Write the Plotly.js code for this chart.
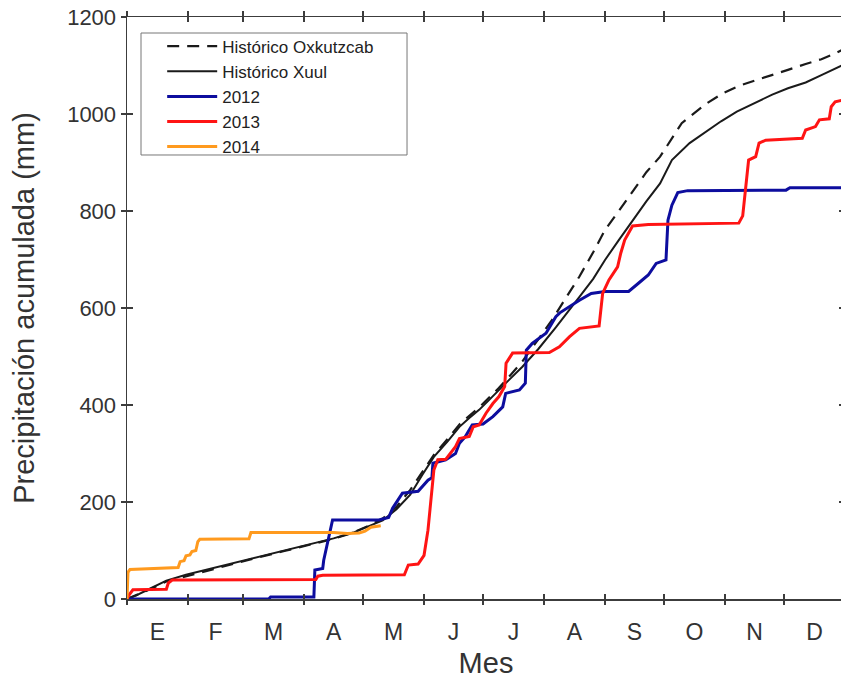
<!DOCTYPE html>
<html>
<head>
<meta charset="utf-8">
<script src="https://cdn.plot.ly/plotly-3.0.1.min.js"></script>
<style>
html,body{margin:0;padding:0;overflow:hidden;background:#fff;}
#chart{width:860px;height:679px;}
</style>
</head>
<body>
<div id="chart"></div>
<script>
// Month ticks (day of year)
const monthStarts = [0,31,59,90,120,151,181,212,243,273,304,334,365];
const monthLabels = ['E','F','M','A','M','J','J','A','S','O','N','D'];
const yTicks = [0,200,400,600,800,1000,1200];

// Histórico Oxkutzcab (dashed)
const oxkDays = [0,10,20,40,64,80,95,105,115,123,130,137,144,150,156,163,169,179,189,195,201,209,216,223,230,237,243,250,259,264,271,277,282,286,294,303,311,320,328,336,345,353,360,365];
const oxkMm   = [0,17,36,58,83,99,114,124,137,151,166,190,225,262,297,330,360,395,435,462,490,535,575,620,665,715,761,800,850,880,912,950,981,994,1020,1043,1058,1070,1080,1091,1103,1113,1125,1135];

// Histórico Xuul (solid black)
const xuulDays = [0,5,10,20,30,40,50,64,80,95,105,115,123,130,137,144,150,156,163,169,174,179,184,189,195,201,209,218,225,230,237,243,250,257,264,271,277,286,293,302,310,320,328,336,345,353,360,365];
const xuulMm   = [0,8,18,38,50,60,70,84,100,115,125,137,150,162,185,215,255,293,325,355,373,390,410,431,455,479,515,560,598,623,660,699,740,781,820,857,905,940,960,985,1005,1025,1040,1053,1065,1080,1094,1103];

// 2012 (blue)
const y2012Days = [0,72,73,95,95.5,99.5,100,104.5,128,133,135,138,140,148,153,155,155.5,162,167,169,172,175.5,181,186,191,192.5,199.5,202.5,203,206,213,218,220,230,236,243,255,260,265,269,274,275,277,280,285,335,337,365];
const y2012Mm   = [0,0,4,4,60,63,80,163,163,168,187,205,218,222,245,250,280,287,300,321,335,359,361,376,396,424,431,445,513,527,548,582,590,616,630,634,634,651,668,692,699,781,812,838,842,843,848,848];

// 2013 (red)
const y2013Days = [0,1,3,20,21,23,96,97,99.5,141,143,148,151,153,156,158,162,167,169,174,176,179,182.5,186,189,192,192.7,196,214.7,219.8,225,230,240,241.8,245,249.4,251,253,257,265,311,313,316,319.6,321.3,324.7,343.3,345,350,352,357,358,360,365];
const y2013Mm   = [0,8,19,20,33,39,40,47,49,50,70,72,90,142,266,287,288,314,331,335,355,359,383,403,417,438,486,507,508,520,541,558,563,630,658,685,713,740,769,772,775,790,905,912,940,946,950,967,974,988,990,1015,1025,1030];

// 2014 (orange)
const y2014Days = [0,0.5,1.5,26,27,29,30,32,33,35,36,37,62,63,105,112,118,121,124,129];
const y2014Mm   = [0,55,61,65,77,79,89,91,98,100,118,123,124,137,137,135,136,140,148,151];

const monthMids = monthLabels.map((_, i) => (monthStarts[i] + monthStarts[i+1]) / 2);

const axisColor = '#3c3c3c';
const textColor = '#333333';
const fontFam = 'Liberation Sans, Arial, sans-serif';

function series(name, x, y, color, width, dash) {
  return {type:'scatter', mode:'lines', name:name, x:x, y:y,
          line:{color:color, width:width, dash:dash}, hoverinfo:'skip'};
}

const data = [
  series('Histórico Oxkutzcab', oxkDays, oxkMm, '#1a1a1a', 2.2, '12px,8px'),
  series('Histórico Xuul', xuulDays, xuulMm, '#1a1a1a', 2, 'solid'),
  series('2012', y2012Days, y2012Mm, '#0d0d9e', 3, 'solid'),
  series('2013', y2013Days, y2013Mm, '#ff1414', 3, 'solid'),
  series('2014', y2014Days, y2014Mm, '#ff9a1e', 3, 'solid'),
  {type:'scatter', x:[], y:[], xaxis:'x2', yaxis:'y', showlegend:false, hoverinfo:'skip'},
  {type:'scatter', x:[], y:[], xaxis:'x3', yaxis:'y', showlegend:false, hoverinfo:'skip'},
  {type:'scatter', x:[], y:[], xaxis:'x', yaxis:'y2', showlegend:false, hoverinfo:'skip'}
];

const layout = {
  width:860, height:679,
  margin:{l:127, r:15, t:17, b:80},
  paper_bgcolor:'#fff', plot_bgcolor:'#fff',
  font:{family:fontFam, color:textColor},
  showlegend:true,
  legend:{x:0.049, y:0.98, xanchor:'left', yanchor:'top', bgcolor:'rgba(0,0,0,0)',
          borderwidth:0, font:{size:17, color:'#222', family:fontFam},
          tracegroupgap:0, itemwidth:50},
  shapes:[{type:'rect', xref:'paper', yref:'paper', layer:'below',
           x0:0.0195, x1:0.390, y0:0.7629, y1:0.9725,
           line:{color:'#777', width:1}, fillcolor:'#fff'}],
  xaxis:{range:[0,365], tickmode:'array', tickvals:monthMids, ticktext:monthLabels,
         ticks:'outside', ticklen:12, tickcolor:'rgba(0,0,0,0)',
         tickfont:{size:23, color:textColor},
         showline:true, linecolor:axisColor, linewidth:1.5, mirror:true,
         showgrid:false, zeroline:false,
         title:{text:'Mes', font:{size:29, color:textColor}}},
  xaxis2:{overlaying:'x', anchor:'y', range:[0,365], tickmode:'array', tickvals:monthStarts,
          ticks:'outside', ticklen:5, tickwidth:1.5, tickcolor:axisColor, showticklabels:false,
          showline:false, mirror:'ticks', showgrid:false, zeroline:false},
  xaxis3:{overlaying:'x', anchor:'y', range:[0,365], tickmode:'array', tickvals:monthStarts,
          ticks:'inside', ticklen:5, tickwidth:1.5, tickcolor:axisColor, showticklabels:false,
          showline:false, mirror:'ticks', showgrid:false, zeroline:false},
  yaxis:{range:[0,1200], tickmode:'array', tickvals:yTicks,
         ticks:'outside', ticklen:5, tickwidth:1.5, tickcolor:axisColor,
         tickfont:{size:22, color:textColor},
         showline:true, linecolor:axisColor, linewidth:1.5, mirror:'ticks',
         showgrid:false, zeroline:false, automargin:'left',
         title:{text:'Precipitación acumulada (mm)', standoff:24, font:{size:29, color:textColor}}},
  yaxis2:{overlaying:'y', anchor:'x', range:[0,1200], tickmode:'array', tickvals:yTicks,
          ticks:'inside', ticklen:6, tickwidth:1.5, tickcolor:axisColor, showticklabels:false,
          showline:false, mirror:'ticks', showgrid:false, zeroline:false}
};

Plotly.newPlot('chart', data, layout, {displayModeBar:false, staticPlot:true});
</script>
</body>
</html>
